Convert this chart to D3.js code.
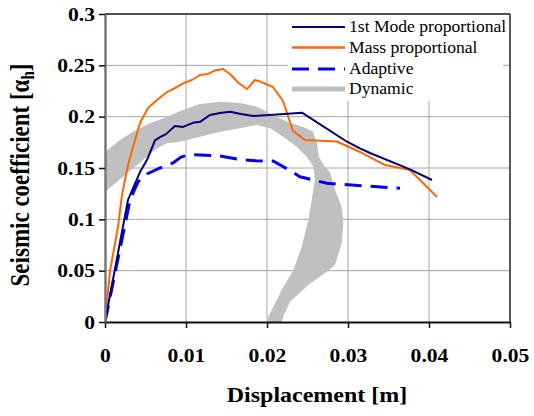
<!DOCTYPE html>
<html>
<head>
<meta charset="utf-8">
<script src="https://cdn.jsdelivr.net/npm/d3@7"></script>
<style>
  body { margin: 0; background: #fff; }
</style>
</head>
<body>
<div id="chart"></div>
<script>
/* values: displacement [m], seismic coefficient */
var firstModeX = [0, 0.00284, 0.00432, 0.00519, 0.00617, 0.00679, 0.00753, 0.00864, 0.00963, 0.01086, 0.01173, 0.01296, 0.0142, 0.01543, 0.01679, 0.01827, 0.02037, 0.02432, 0.02988, 0.03148, 0.03272, 0.03765, 0.04037];
var firstModeY = [0, 0.119, 0.146, 0.158, 0.177, 0.180, 0.183, 0.191, 0.190, 0.194, 0.195, 0.2016, 0.2036, 0.2048, 0.2026, 0.2006, 0.2016, 0.2039, 0.1756, 0.1692, 0.1646, 0.1487, 0.1383];

var massX = [0, 0.00062, 0.0016, 0.0021, 0.00284, 0.00346, 0.00432, 0.00531, 0.00642, 0.00765, 0.00889, 0.00988, 0.01074, 0.01173, 0.01272, 0.01358, 0.01457, 0.01543, 0.01642, 0.01753, 0.01852, 0.01914, 0.02074, 0.02198, 0.02321, 0.02469, 0.02864, 0.03148, 0.03457, 0.03765, 0.04099];
var massY = [0, 0.0497, 0.0925, 0.1237, 0.1529, 0.1704, 0.1938, 0.2084, 0.2162, 0.224, 0.2289, 0.2333, 0.2357, 0.2406, 0.2416, 0.245, 0.2464, 0.2416, 0.2333, 0.2269, 0.2357, 0.2342, 0.2289, 0.2153, 0.186, 0.1773, 0.1758, 0.1656, 0.1529, 0.148, 0.1218];

var adaptiveX = [0, 0.00309, 0.00407, 0.00519, 0.00679, 0.0084, 0.00938, 0.01049, 0.01173, 0.0142, 0.01667, 0.01864, 0.02074, 0.02284, 0.02407, 0.0274, 0.0321, 0.03642];
var adaptiveY = [0, 0.1188, 0.1364, 0.1442, 0.15, 0.1549, 0.1607, 0.1631, 0.1627, 0.1617, 0.1583, 0.157, 0.1568, 0.1476, 0.1415, 0.1351, 0.1325, 0.1302];

/* dynamic envelope: outer edge then inner edge (going back) */
var dynamicOuter = [[0, 0.1656], [0.00185, 0.1773], [0.00346, 0.1854], [0.00556, 0.1935], [0.00765, 0.2], [0.00963, 0.2065], [0.01173, 0.2123], [0.0142, 0.2146], [0.01667, 0.2133], [0.01877, 0.2097], [0.02074, 0.2016], [0.02284, 0.1938], [0.02444, 0.1902], [0.02568, 0.1854], [0.02617, 0.1743], [0.02642, 0.1607], [0.02716, 0.151], [0.02778, 0.1461], [0.0284, 0.1286], [0.02922, 0.1123], [0.02942, 0.0961], [0.02922, 0.0767], [0.0284, 0.0555], [0.02737, 0.049], [0.0251, 0.036], [0.02284, 0.0198], [0.02201, 0.0052], [0.02181, 0]];
var dynamicInner = [[0.02, 0], [0.02016, 0.0052], [0.02181, 0.0312], [0.02325, 0.0506], [0.02428, 0.0733], [0.0251, 0.0993], [0.02572, 0.1286], [0.02593, 0.1383], [0.02572, 0.1513], [0.0249, 0.161], [0.02367, 0.1707], [0.02201, 0.1805], [0.02037, 0.1887], [0.01873, 0.1919], [0.01667, 0.1887], [0.0142, 0.1854], [0.01173, 0.1805], [0.00926, 0.1756], [0.00765, 0.1741], [0.00642, 0.1692], [0.00519, 0.161], [0.00395, 0.1529], [0.00272, 0.1448], [0.00148, 0.1367], [0, 0.1266]];

var xTicks = [0, 0.01, 0.02, 0.03, 0.04, 0.05];
var yTicks = [0, 0.05, 0.1, 0.15, 0.2, 0.25, 0.3];
var seriesNames = ["1st Mode proportional", "Mass proportional", "Adaptive", "Dynamic"];

function draw() {
  "use strict";

  var W = 534, H = 416;
  var left = 105, right = 510, top = 14, bottom = 322;
  var sx = 1.2; /* the original picture is stretched sideways */
  var serif = "'Liberation Serif'";

  var svg = d3.select("#chart").append("svg")
      .attr("width", W).attr("height", H);

  var x = d3.scaleLinear().domain([0, 0.05]).range([left, right]);
  var y = d3.scaleLinear().domain([0, 0.3]).range([bottom, top]);

  svg.append("clipPath").attr("id", "plot")
    .append("rect").attr("x", left).attr("y", top)
    .attr("width", right - left).attr("height", bottom - top);

  /* gridlines */
  svg.append("g").selectAll("line").data(xTicks.slice(1, -1)).enter().append("line")
      .attr("x1", function (d) { return x(d); }).attr("x2", function (d) { return x(d); })
      .attr("y1", top).attr("y2", bottom)
      .attr("stroke", "#a6a6a6").attr("stroke-width", 1);
  svg.append("g").selectAll("line").data(yTicks.slice(1)).enter().append("line")
      .attr("x1", left).attr("x2", right)
      .attr("y1", function (d) { return y(d); }).attr("y2", function (d) { return y(d); })
      .attr("stroke", "#a6a6a6").attr("stroke-width", 1);

  /* legend background hides gridlines */
  svg.append("rect").attr("x", 288).attr("y", top + 1)
      .attr("width", 215).attr("height", 86).attr("fill", "#fff");

  var plot = svg.append("g").attr("clip-path", "url(#plot)");

  /* dynamic band */
  var line = d3.line().x(function (d) { return x(d[0]); }).y(function (d) { return y(d[1]); });
  plot.append("path")
      .attr("d", line(dynamicOuter.concat(dynamicInner)) + "Z")
      .attr("fill", "#c0c0c0");

  function pairs(a, b) { return a.map(function (v, i) { return [v, b[i]]; }); }

  plot.append("path").attr("d", line(pairs(adaptiveX, adaptiveY)))
      .attr("fill", "none").attr("stroke", "#0000ff").attr("stroke-width", 3)
      .attr("stroke-dasharray", "17,9");
  plot.append("path").attr("d", line(pairs(massX, massY)))
      .attr("fill", "none").attr("stroke", "#ff6600").attr("stroke-width", 2)
      .attr("stroke-linejoin", "round");
  plot.append("path").attr("d", line(pairs(firstModeX, firstModeY)))
      .attr("fill", "none").attr("stroke", "#000080").attr("stroke-width", 2)
      .attr("stroke-linejoin", "round");

  /* frame */
  svg.append("line").attr("x1", left).attr("x2", right).attr("y1", top).attr("y2", top)
      .attr("stroke", "#222").attr("stroke-width", 1.5);
  svg.append("line").attr("x1", right).attr("x2", right).attr("y1", top).attr("y2", bottom)
      .attr("stroke", "#222").attr("stroke-width", 1.5);

  /* axes */
  var xAxis = svg.append("g").attr("transform", "translate(0," + bottom + ")")
      .call(d3.axisBottom(x).tickValues(xTicks).tickSize(6).tickSizeOuter(0)
        .tickFormat(function (d) { return d === 0 ? "0" : d3.format(".2f")(d); }));
  var yAxis = svg.append("g").attr("transform", "translate(" + left + ",0)")
      .call(d3.axisLeft(y).tickValues(yTicks).tickSize(6).tickSizeOuter(0)
        .tickFormat(function (d) { return d === 0 ? "0" : String(+d.toFixed(2)); }));

  xAxis.select(".domain").attr("stroke", "#111").attr("stroke-width", 2);
  yAxis.select(".domain").attr("stroke", "#777").attr("stroke-width", 2.5);
  xAxis.selectAll(".tick line").attr("stroke", "#111").attr("stroke-width", 1.5);
  yAxis.selectAll(".tick line").attr("stroke", "#111").attr("stroke-width", 1.5);

  xAxis.selectAll(".tick text")
      .attr("y", 0).attr("dy", 0)
      .attr("transform", "translate(0,40) scale(" + sx + ",1)")
      .attr("fill", "#000")
      .style("font-family", serif).style("font-size", "18px").style("font-weight", "bold");
  yAxis.selectAll(".tick text")
      .attr("x", 0).attr("dy", 0)
      .attr("transform", "translate(-10,6) scale(" + sx + ",1)")
      .attr("fill", "#000")
      .style("font-family", serif).style("font-size", "18px").style("font-weight", "bold");

  /* axis titles */
  svg.append("text")
      .attr("transform", "translate(317,402) scale(" + sx + ",1)")
      .attr("text-anchor", "middle")
      .style("font-family", serif).style("font-size", "20px").style("font-weight", "bold")
      .text("Displacement [m]");

  var yt = svg.append("text")
      .attr("transform", "translate(29,175) scale(" + sx + ",1) rotate(-90)")
      .attr("text-anchor", "middle")
      .style("font-family", serif).style("font-size", "23px").style("font-weight", "bold");
  yt.append("tspan").text("Seismic coefficient [\u03b1");
  yt.append("tspan").attr("dy", 4).style("font-size", "15px").text("h");
  yt.append("tspan").attr("dy", -4).text("]");

  /* legend */
  var legColors = ["#000080", "#ff6600", "#0000ff", "#c0c0c0"];
  var legWidths = [2, 2.5, 3, 5];
  var legDash = [null, null, "17,9", null];
  var rowY = [27, 47.5, 69, 89];
  var leg = svg.append("g");
  seriesNames.forEach(function (name, i) {
    leg.append("line").attr("x1", 292).attr("x2", 345)
        .attr("y1", rowY[i]).attr("y2", rowY[i])
        .attr("stroke", legColors[i]).attr("stroke-width", legWidths[i])
        .attr("stroke-dasharray", legDash[i]);
    leg.append("text")
        .attr("transform", "translate(349," + (rowY[i] + 5) + ") scale(1.1,1)")
        .style("font-family", serif).style("font-size", "16px")
        .text(name);
  });
}

draw();
</script>
</body>
</html>
